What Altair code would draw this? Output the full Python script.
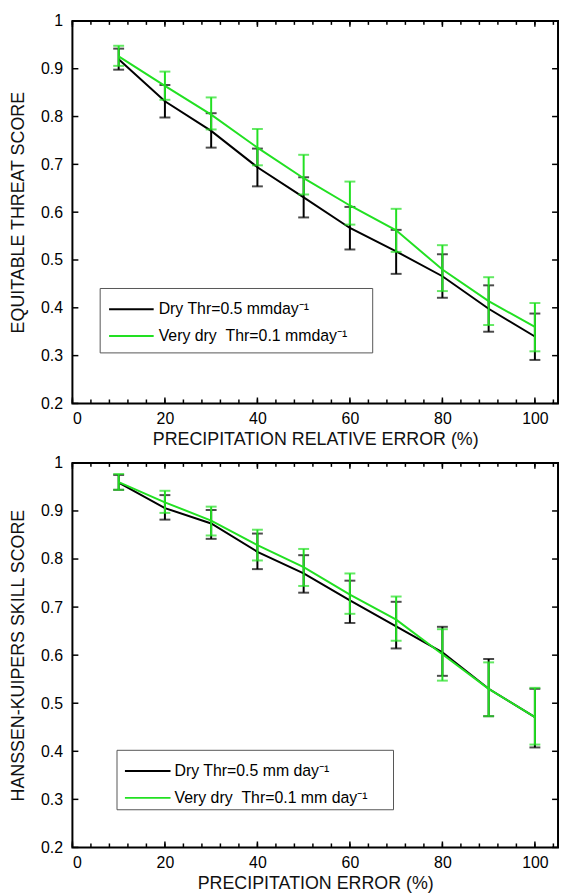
import altair as alt
import pandas as pd

# ---------------- data ----------------
x_vals = [10, 20, 30, 40, 50, 60, 70, 80, 90, 100]

# Panel 1: Equitable threat score
ets_dry_mean = [0.920, 0.832, 0.770, 0.694, 0.631, 0.567, 0.518, 0.466, 0.398, 0.340]
ets_dry_lo = [0.898, 0.798, 0.735, 0.654, 0.589, 0.522, 0.471, 0.421, 0.350, 0.291]
ets_dry_hi = [0.942, 0.866, 0.807, 0.733, 0.673, 0.611, 0.563, 0.512, 0.447, 0.388]
ets_vd_mean = [0.926, 0.864, 0.804, 0.735, 0.671, 0.614, 0.562, 0.480, 0.414, 0.360]
ets_vd_lo = [0.906, 0.835, 0.773, 0.698, 0.637, 0.574, 0.517, 0.435, 0.364, 0.309]
ets_vd_hi = [0.948, 0.894, 0.840, 0.774, 0.720, 0.664, 0.607, 0.531, 0.464, 0.410]

# Panel 2: Hanssen-Kuipers skill score
hk_dry_mean = [0.959, 0.906, 0.874, 0.815, 0.770, 0.714, 0.660, 0.606, 0.530, 0.471]
hk_dry_lo = [0.944, 0.882, 0.842, 0.779, 0.730, 0.667, 0.614, 0.557, 0.473, 0.408]
hk_dry_hi = [0.975, 0.933, 0.902, 0.853, 0.808, 0.755, 0.711, 0.659, 0.592, 0.530]
hk_vd_mean = [0.960, 0.918, 0.880, 0.829, 0.783, 0.726, 0.674, 0.602, 0.530, 0.471]
hk_vd_lo = [0.944, 0.896, 0.849, 0.797, 0.744, 0.686, 0.630, 0.547, 0.473, 0.414]
hk_vd_hi = [0.977, 0.942, 0.909, 0.861, 0.821, 0.770, 0.722, 0.654, 0.585, 0.532]

ets_labels = ["Dry Thr=0.5 mmday\u207b\u00b9", "Very dry \u00a0Thr=0.1 mmday\u207b\u00b9"]
hk_labels = ["Dry Thr=0.5 mm day\u207b\u00b9", "Very dry \u00a0Thr=0.1 mm day\u207b\u00b9"]

x_major = [0, 20, 40, 60, 80, 100]
x_minor = [0, 4, 8, 12, 16, 20, 24, 28, 32, 36, 40, 44, 48, 52, 56, 60, 64, 68,
           72, 76, 80, 84, 88, 92, 96, 100, 104]
y_major = [0.2, 0.3, 0.4, 0.5, 0.6, 0.7, 0.8, 0.9, 1.0]

GREEN = "#22e022"
COLORS = ["black", GREEN]
FONT = "Liberation Sans"
W = 490


def panel(dm, dl, dh, vm, vl, vh, labels, ytitle, xtitle, height, leg):
    rows = []
    for name, m, lo, hi in [(labels[0], dm, dl, dh), (labels[1], vm, vl, vh)]:
        for x, a, b, c in zip(x_vals, m, lo, hi):
            rows.append({"series": name, "x": x, "mean": a, "lo": b, "hi": c})
    df = pd.DataFrame(rows)

    xs = alt.Scale(domain=[0, 105], nice=False, zero=False)
    ys = alt.Scale(domain=[0.2, 1.0], nice=False, zero=False)
    xaxis = alt.Axis(values=x_major, tickSize=0, domain=False, grid=False,
                     labelPadding=7, titlePadding=4, labelFont=FONT, titleFont=FONT,
                     labelFontSize=16, titleFontSize=18, titleFontWeight="normal",
                     labelColor="black", titleColor="#111111")
    yaxis = alt.Axis(values=y_major, format="~g", tickSize=0, domain=False, grid=False,
                     labelPadding=10, titlePadding=13, labelFont=FONT, titleFont=FONT,
                     labelFontSize=16, titleFontSize=18, titleFontWeight="normal",
                     labelColor="black", titleColor="#111111")

    def X(f):
        return alt.X(f, scale=xs, axis=xaxis, title=xtitle)

    def Y(f):
        return alt.Y(f, scale=ys, axis=yaxis, title=ytitle)

    color = alt.Color("series:N", scale=alt.Scale(domain=labels, range=COLORS), legend=None)

    layers = []
    for name in labels:
        base = alt.Chart(df).transform_filter(alt.datum.series == name)
        layers += [
            base.mark_line(strokeWidth=2).encode(x=X("x:Q"), y=Y("mean:Q"), color=color),
            base.mark_rule(strokeWidth=2).encode(x=X("x:Q"), y=Y("lo:Q"), y2="hi:Q", color=color),
            base.mark_tick(orient="horizontal", size=11, thickness=2).encode(
                x=X("x:Q"), y=Y("lo:Q"), color=color),
            base.mark_tick(orient="horizontal", size=11, thickness=2).encode(
                x=X("x:Q"), y=Y("hi:Q"), color=color),
        ]

    # inward MATLAB-style ticks on all four sides
    xmin_df = pd.DataFrame({"t": x_minor})
    xmaj_df = pd.DataFrame({"t": x_major})
    ymaj_df = pd.DataFrame({"t": y_major})
    tk = dict(color="black", strokeWidth=1.5)
    layers += [
        alt.Chart(xmin_df).mark_rule(**tk).encode(
            x=X("t:Q"), y=alt.value(height), y2=alt.value(height - 4)),
        alt.Chart(xmin_df).mark_rule(**tk).encode(
            x=X("t:Q"), y=alt.value(0), y2=alt.value(4)),
        alt.Chart(xmaj_df).mark_rule(**tk).encode(
            x=X("t:Q"), y=alt.value(height), y2=alt.value(height - 6)),
        alt.Chart(xmaj_df).mark_rule(**tk).encode(
            x=X("t:Q"), y=alt.value(0), y2=alt.value(6)),
        alt.Chart(ymaj_df).mark_rule(**tk).encode(
            y=Y("t:Q"), x=alt.value(0), x2=alt.value(6)),
        alt.Chart(ymaj_df).mark_rule(**tk).encode(
            y=Y("t:Q"), x=alt.value(W), x2=alt.value(W - 6)),
    ]

    # legend box (MATLAB style, drawn inside the axes)
    bx0, bx1, by0, by1, r1, r2, lx0, lx1, tx = leg
    one = pd.DataFrame({"k": [0]})
    layers.append(alt.Chart(one).mark_rect(fill="white", stroke="#555555", strokeWidth=1).encode(
        x=alt.value(bx0), x2=alt.value(bx1), y=alt.value(by0), y2=alt.value(by1)))
    for lab, col, ry in [(labels[0], COLORS[0], r1), (labels[1], COLORS[1], r2)]:
        layers.append(alt.Chart(one).mark_rule(color=col, strokeWidth=2).encode(
            x=alt.value(lx0), x2=alt.value(lx1), y=alt.value(ry)))
        layers.append(alt.Chart(one).mark_text(
            align="left", baseline="middle", font=FONT, fontSize=16, color="black").encode(
            x=alt.value(tx), y=alt.value(ry), text=alt.value(lab)))

    return alt.layer(*layers).properties(width=W, height=height)


top = panel(ets_dry_mean, ets_dry_lo, ets_dry_hi, ets_vd_mean, ets_vd_lo, ets_vd_hi,
            ets_labels, "EQUITABLE THREAT SCORE", "PRECIPITATION RELATIVE ERROR (%)",
            386, (28, 303, 270, 335, 291, 318, 37, 82, 87))
bottom = panel(hk_dry_mean, hk_dry_lo, hk_dry_hi, hk_vd_mean, hk_vd_lo, hk_vd_hi,
               hk_labels, "HANSSEN-KUIPERS SKILL SCORE", "PRECIPITATION ERROR (%)",
               388, (45, 324, 290, 350, 311, 338, 53, 99, 103))

chart = alt.vconcat(top, bottom, spacing=5).resolve_scale(color="independent").properties(
    padding={"left": 0, "top": 0, "right": 0, "bottom": 0},
    background="white",
).configure_view(stroke="black", strokeWidth=2)

chart.save("out.html", embed_options={"renderer": "svg", "actions": False})
